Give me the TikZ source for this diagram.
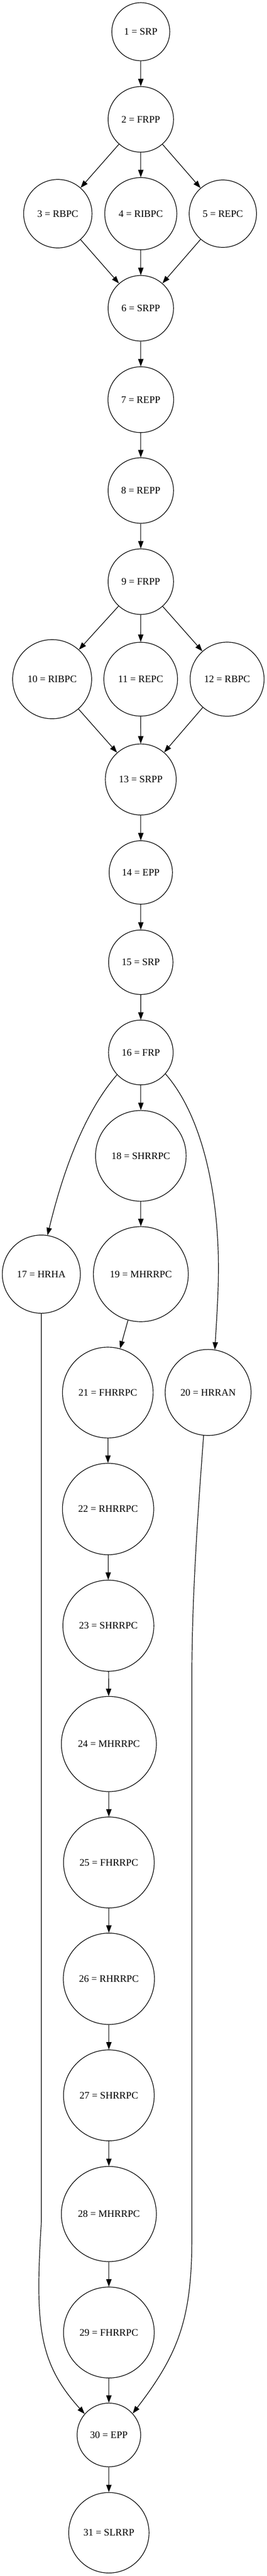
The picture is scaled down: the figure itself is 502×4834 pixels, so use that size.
\documentclass[tikz,border=0pt]{standalone}
\usepackage{fontspec}
\setmainfont{Liberation Serif}
\usetikzlibrary{arrows.meta}
\newcommand\mynode[4]{\node[gn, minimum size=#4*0.75pt] (n#1) at (#2) {#3};}
\begin{document}
\begin{tikzpicture}[x=0.75pt,y=-0.75pt,
  gn/.style={circle, draw, line width=0.9pt, inner sep=0pt, font=\fontsize{14pt}{16pt}\selectfont},
  edge/.style={line width=0.9pt, -{Triangle[length=10.5pt,width=7.5pt]}}]
\useasboundingbox (0,0) rectangle (502,4834);
\mynode{1}{264.7,59.5}{1 = SRP}{109}
\mynode{2}{264.7,224}{2 = FRPP}{123}
\mynode{3}{108.7,401}{3 = RBPC}{128.5}
\mynode{4}{264.7,401}{4 = RIBPC}{135.5}
\mynode{5}{419,401}{5 = REPC}{126.5}
\mynode{6}{264.7,578.5}{6 = SRPP}{123}
\mynode{7}{264.7,750}{7 = REPP}{123.5}
\mynode{8}{264.7,920.5}{8 = REPP}{123}
\mynode{9}{264.7,1091.5}{9 = FRPP}{123}
\mynode{10}{98,1274.5}{10 = RIBPC}{148.5}
\mynode{11}{264.5,1274.5}{11 = REPC}{138.5}
\mynode{12}{427,1274.5}{12 = RBPC}{139}
\mynode{13}{264.7,1462.7}{13 = SRPP}{133.3}
\mynode{14}{264.7,1637.2}{14 = EPP}{119}
\mynode{15}{264.7,1805.7}{15 = SRP}{121}
\mynode{16}{264.8,1975}{16 = FRP}{121.5}
\mynode{17}{77.7,2391}{17 = HRHA}{146.7}
\mynode{18}{264.8,2169}{18 = SHRRPC}{170.3}
\mynode{19}{264.8,2391}{19 = MHRRPC}{178.4}
\mynode{20}{391.3,2613}{20 = HRRAN}{161.4}
\mynode{21}{202.7,2613.2}{21 = FHRRPC}{170.4}
\mynode{22}{203.2,2831.7}{22 = RHRRPC}{171.6}
\mynode{23}{203.7,3050.7}{23 = SHRRPC}{171}
\mynode{24}{204.7,3272.7}{24 = MHRRPC}{178.6}
\mynode{25}{204.7,3495}{25 = FHRRPC}{170.6}
\mynode{26}{204.7,3713.3}{26 = RHRRPC}{171.4}
\mynode{27}{204.7,3932}{27 = SHRRPC}{170.6}
\mynode{28}{204.7,4154.7}{28 = MHRRPC}{178.6}
\mynode{29}{204.7,4377}{29 = FHRRPC}{170.6}
\mynode{30}{204.7,4569.3}{30 = EPP}{119.5}
\mynode{31}{204.7,4752.8}{31 = SLRRP}{151}
\foreach \a/\b in {1/2,2/3,2/4,2/5,3/6,4/6,5/6,6/7,7/8,8/9,9/10,9/11,9/12,10/13,11/13,12/13,13/14,14/15,15/16,16/18,18/19,19/21,21/22,22/23,23/24,24/25,25/26,26/27,27/28,28/29,29/30,30/31}
  \draw[edge] (n\a) -- (n\b);
\draw[edge] (n16.223) .. controls +(-72,83) and +(21.5,-87.4) .. (n17.81);
\coordinate (c1) at (410.7,2380);
\draw[edge] (n16.319) .. controls +(66,75) and (410.7,2230) .. (c1) .. controls (410.7,2430) and (406.8,2482.3) .. (n20.81.5);
\coordinate (c2) at (77.7,4170);
\draw[edge] (n17.south) -- (c2) .. controls (66,4360) and (71.2,4432.8) .. (n30.139);
\coordinate (c3) at (360.7,3150);
\coordinate (c4) at (360.7,4200);
\draw[edge] (n20.264) .. controls +(-11,147) and (360.7,3000) .. (c3) -- (c4) .. controls (360.7,4350) and (336.1,4416.7) .. (n30.42);
\end{tikzpicture}
\end{document}
